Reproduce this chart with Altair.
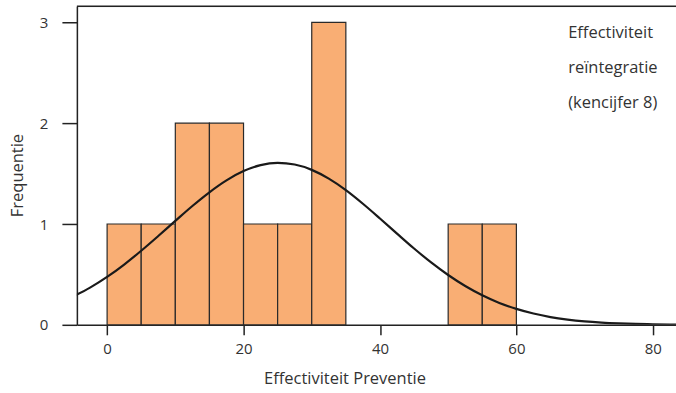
import altair as alt
import pandas as pd

# Histogram bins (width 5) and counts
bin_start = [0, 5, 10, 15, 20, 25, 30, 35, 40, 45, 50, 55]
bin_end = [5, 10, 15, 20, 25, 30, 35, 40, 45, 50, 55, 60]
counts = [1, 1, 2, 2, 1, 1, 3, 0, 0, 0, 1, 1]

# Fitted normal curve
curve_x = [-5, -2.5, 0, 2.5, 5, 7.5, 10, 12.5, 15, 17.5, 20, 22.5, 25, 27.5, 30,
           32.5, 35, 37.5, 40, 42.5, 45, 47.5, 50, 52.5, 55, 57.5, 60, 62.5, 65,
           67.5, 70, 72.5, 75, 77.5, 80, 82.5, 85]
curve_y = [0.280, 0.369, 0.475, 0.598, 0.735, 0.881, 1.031, 1.179, 1.315, 1.433,
           1.525, 1.584, 1.606, 1.590, 1.537, 1.450, 1.336, 1.201, 1.055, 0.905,
           0.757, 0.619, 0.494, 0.385, 0.293, 0.217, 0.158, 0.112, 0.077, 0.052,
           0.034, 0.022, 0.014, 0.0085, 0.0051, 0.003, 0.0017]

x_ticks = [0, 20, 40, 60, 80]
y_ticks = [0, 1, 2, 3]
note_lines = ["Effectiviteit", "reïntegratie", "(kencijfer 8)"]

FONT = "Open Sans"
TXT = "#333333"

hist = pd.DataFrame({"start": bin_start, "end": bin_end, "count": counts})
hist = hist[hist["count"] > 0]
curve = pd.DataFrame({"x": curve_x, "y": curve_y})
notes = pd.DataFrame({"t": ["\n".join(note_lines)]})

xscale = alt.Scale(domain=[-4.43, 83.4], nice=False, zero=False)
yscale = alt.Scale(domain=[0, 3.16], nice=False)

xaxis = alt.Axis(values=x_ticks, title="Effectiviteit Preventie", grid=False,
                 domainColor="#222222", domainWidth=1.5, tickColor="#222222",
                 tickWidth=1.5, tickSize=10, labelPadding=7, labelFontSize=15,
                 labelFont=FONT, labelColor=TXT, titleFont=FONT, titleFontSize=16.5,
                 titleFontWeight="normal", titleColor=TXT, titlePadding=14,
                 titleX=268, titleAnchor="middle")
yaxis = alt.Axis(values=y_ticks, title="Frequentie", grid=False,
                 domainColor="#222222", domainWidth=1.5, tickColor="#222222",
                 tickWidth=1.5, tickSize=15, labelPadding=14, labelFontSize=15,
                 labelFont=FONT, labelColor=TXT, titleFont=FONT, titleFontSize=16.5,
                 titleFontWeight="normal", titleColor=TXT, titlePadding=14,
                 titleY=169, titleAnchor="middle", format="d")

bars = alt.Chart(hist).mark_rect(fill="#F9AE74", stroke="#2a2a2a", strokeWidth=1.2).encode(
    x=alt.X("start:Q", scale=xscale, axis=xaxis),
    x2="end:Q",
    y=alt.Y("count:Q", scale=yscale, axis=yaxis),
    y2=alt.datum(0),
)

line = alt.Chart(curve).mark_line(color="#1a1a1a", strokeWidth=2.2, clip=True,
                                  interpolate="monotone").encode(
    x=alt.X("x:Q", scale=xscale),
    y=alt.Y("y:Q", scale=yscale),
)

top = alt.Chart(pd.DataFrame({"a": [0]})).mark_rule(color="#222222", strokeWidth=1.5).encode(
    x=alt.value(0), x2=alt.value(600), y=alt.value(0)
)

text = alt.Chart(notes).mark_text(align="left", baseline="middle", font=FONT,
                                  fontSize=16.5, color=TXT, lineBreak="\n",
                                  lineHeight=35).encode(
    x=alt.value(492),
    y=alt.value(27),
    text="t:N",
)

chart = alt.layer(bars, line, top, text).properties(
    width=600, height=319,
    autosize=alt.AutoSizeParams(type="none"),
    padding={"left": 77, "top": 6, "right": 0, "bottom": 68},
).configure_view(stroke=None).configure(background="white")

chart.save("out.html", embed_options={"renderer": "svg", "actions": False})
